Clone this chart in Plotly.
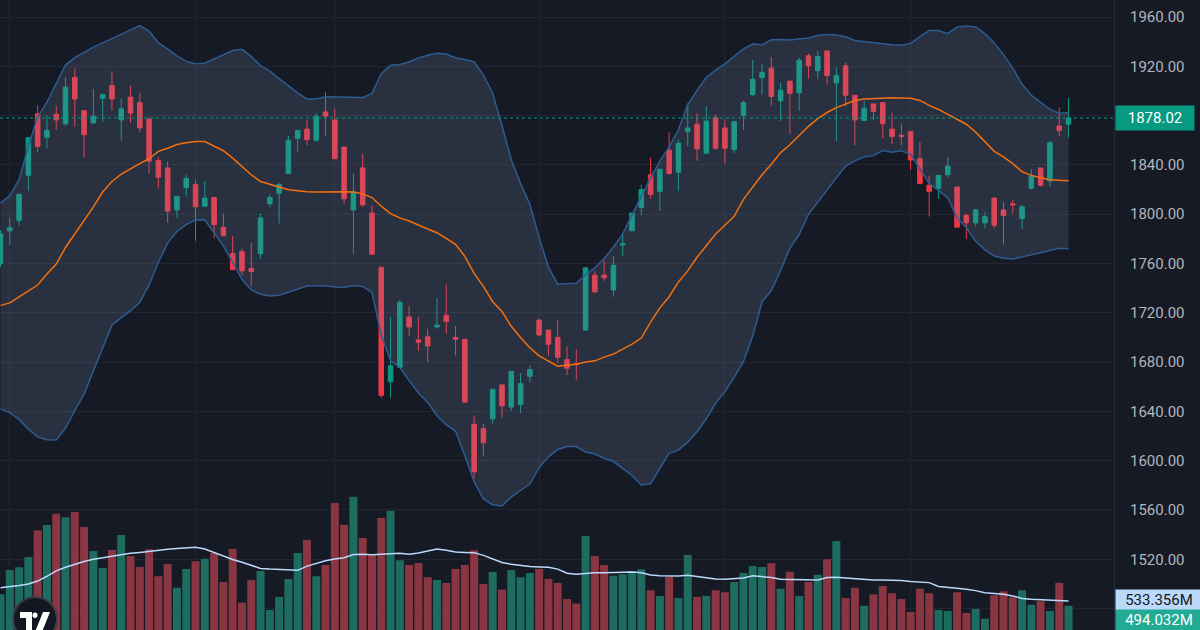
import plotly.graph_objects as go

# ---------------- data ----------------
opens = [1760, 1786.5, 1795, 1831.5, 1881.5, 1862.5, 1881, 1873.5, 1911, 1884,
         1874, 1894, 1904.5, 1876.5, 1895, 1890.5, 1877, 1843.5, 1837.5, 1803.5,
         1821.5, 1824, 1806.5, 1813.5, 1789.5, 1768, 1769.5, 1756, 1768, 1808.5,
         1817, 1833, 1861.5, 1869, 1860, 1883, 1876.5, 1854.5, 1803.5, 1837.5,
         1801, 1757, 1664, 1675.5, 1716.5, 1698, 1700.5, 1708.5, 1718, 1700,
         1698.5, 1629.5, 1626, 1634, 1661.5, 1643.5, 1645.5, 1668.5, 1714, 1706,
         1700, 1682, 1678.7, 1706, 1750.5, 1750.5, 1738.5, 1775, 1786.5, 1805.5,
         1832, 1818.5, 1852, 1834, 1867, 1873, 1849.5, 1878.5, 1870, 1852.5,
         1880, 1897, 1911, 1918.5, 1892, 1908, 1898.5, 1928.5, 1916.5, 1932.5,
         1906.5, 1920.5, 1896.5, 1876, 1889.5, 1890.5, 1869, 1864, 1867, 1845,
         1823.5, 1821, 1832, 1822, 1799, 1793, 1793, 1813, 1803.5, 1808.5,
         1796.5, 1821, 1837.5, 1827, 1871.5, 1873]

highs = [1787, 1797, 1817, 1862, 1888.5, 1880, 1888, 1911, 1918.5, 1884,
         1901.5, 1898, 1915.5, 1894, 1904.5, 1898.5, 1879, 1846, 1842.5, 1814.5,
         1832, 1827.5, 1827, 1813.5, 1800.5, 1782.5, 1772, 1777, 1800.5, 1816,
         1825.5, 1863.5, 1868, 1876.5, 1882, 1899, 1885.5, 1854.5, 1833.5, 1849,
         1807, 1757, 1716.5, 1730.5, 1725.5, 1716.5, 1707, 1732, 1743, 1709.5,
         1698.5, 1636.5, 1630, 1658, 1661.5, 1672.5, 1671, 1677, 1715, 1706,
         1714, 1692.5, 1690.3, 1756.5, 1753.5, 1762.5, 1766, 1783.5, 1801, 1824,
         1846, 1836.5, 1866.5, 1860.5, 1890, 1882, 1887.5, 1881, 1877, 1875,
         1892, 1925, 1922, 1927.5, 1907, 1908, 1927, 1930.5, 1932.5, 1932.5,
         1919, 1923, 1896.5, 1892, 1889.5, 1890.5, 1882.5, 1873.5, 1867, 1858.5,
         1831.5, 1831.5, 1846.5, 1822.5, 1800.5, 1804.5, 1801.5, 1814, 1810, 1811.5,
         1807.5, 1836.5, 1837.5, 1859.5, 1886.5, 1894.5]

lows = [1757, 1775, 1791, 1819, 1850.5, 1853.5, 1868.5, 1871.5, 1871, 1846,
        1873.5, 1875, 1884, 1859.5, 1874, 1866.5, 1833, 1821.5, 1793, 1797,
        1814.5, 1778.5, 1806, 1780.5, 1782, 1754.5, 1750.5, 1742, 1764, 1805.5,
        1792.5, 1833, 1850.5, 1856, 1859, 1863.5, 1845, 1808.5, 1767.5, 1806,
        1767.5, 1651, 1651, 1675.5, 1701.5, 1689, 1680, 1707, 1703, 1685.5,
        1647.5, 1586, 1603.5, 1630, 1635, 1640.5, 1638.5, 1663.5, 1701, 1685,
        1679.5, 1669.5, 1665.6, 1706, 1736, 1746, 1733, 1766, 1786.5, 1799,
        1812.5, 1802.5, 1832, 1819, 1855, 1843.5, 1849.5, 1852.5, 1841, 1849.5,
        1868.5, 1896, 1897, 1888, 1875.5, 1865, 1884, 1910, 1909.5, 1905,
        1859, 1887.5, 1856, 1876, 1876.5, 1861.5, 1857, 1856, 1836, 1824,
        1798, 1812.5, 1829.5, 1789.5, 1780, 1790, 1788.5, 1788.5, 1775.5, 1800.5,
        1788, 1820, 1822.5, 1822.5, 1863, 1862]

closes = [1784, 1789, 1816, 1862, 1855, 1868, 1876.5, 1903, 1893.5, 1864.5,
          1879.5, 1897, 1893.5, 1885.5, 1882, 1870, 1843, 1830, 1802.5, 1814.5,
          1829, 1806, 1813, 1791.5, 1782.5, 1755, 1754, 1753.5, 1797, 1813.5,
          1824, 1860, 1868, 1860.5, 1879.5, 1879.5, 1845, 1812.5, 1818.5, 1807.5,
          1767.5, 1653, 1677, 1728.5, 1708.5, 1696, 1693, 1710, 1713, 1698.5,
          1647.5, 1591, 1614.5, 1658, 1644.5, 1672.5, 1662.5, 1674, 1702, 1694.5,
          1684, 1675, 1678.2, 1756.5, 1737, 1748.5, 1758.5, 1776, 1801, 1820,
          1816, 1836.5, 1833, 1857.5, 1870, 1853, 1875.5, 1853.5, 1853.5, 1875,
          1890.5, 1909.5, 1915, 1895.5, 1900.5, 1898, 1925, 1920.5, 1928, 1912.5,
          1912.5, 1896.5, 1876.5, 1886, 1883.5, 1873.5, 1863, 1863, 1844, 1825,
          1818.5, 1831.5, 1839, 1789.5, 1793, 1803.5, 1798, 1791, 1799, 1807.5,
          1806, 1830.5, 1823.5, 1858, 1868, 1878.02]

bb_upper = [1809, 1815, 1828, 1855, 1879, 1891, 1906, 1921, 1927, 1931.5,
            1935.6, 1939, 1942.5, 1946.5, 1950, 1953, 1948.5, 1939, 1934, 1928.5,
            1924, 1922, 1922.5, 1926, 1929, 1932.8, 1933.8, 1928, 1920.5, 1916,
            1910, 1904, 1898.5, 1893.5, 1893.5, 1895.3, 1895, 1894.6, 1894.6, 1894.6,
            1898, 1914, 1920.8, 1921.5, 1923.5, 1926.8, 1929, 1930.5, 1930, 1927,
            1925.5, 1923.5, 1913, 1898, 1872, 1844, 1825, 1808, 1781, 1757,
            1743.4, 1743.4, 1744, 1750.5, 1756.6, 1764, 1773.4, 1784, 1799, 1815,
            1829.5, 1843, 1854.5, 1868.5, 1889, 1900.5, 1911, 1917, 1922, 1928,
            1934.2, 1938, 1937.5, 1941.5, 1941.8, 1941.3, 1942, 1943, 1945, 1945.9,
            1945.5, 1944, 1941, 1940, 1939, 1938, 1937.5, 1937, 1938.6, 1944,
            1949, 1949, 1946.5, 1951.9, 1952.8, 1952, 1946.5, 1939, 1929.5, 1918.5,
            1905.5, 1896.5, 1890.5, 1885, 1882, 1882.4]

bb_basis = [1726, 1728, 1733, 1738, 1742.5, 1751.5, 1759.5, 1773, 1784, 1794.5,
            1806, 1818, 1826.5, 1832.5, 1837, 1841, 1845, 1851, 1853.5, 1856.5,
            1858, 1859, 1858.9, 1855.5, 1851.5, 1845.5, 1839, 1832, 1826.5, 1824,
            1822, 1819.8, 1818.9, 1818.2, 1818, 1818.3, 1818.5, 1818.3, 1818, 1816.5,
            1813.5, 1806.5, 1800.5, 1797, 1794.5, 1791, 1788, 1785, 1780, 1775.5,
            1765.8, 1752, 1741.5, 1729, 1721, 1709, 1700, 1691.6, 1685, 1680.5,
            1676.6, 1677.5, 1678.3, 1680, 1681, 1684, 1686.5, 1690.5, 1694.5, 1699.5,
            1712.5, 1724, 1733, 1745, 1754, 1765, 1774.5, 1784, 1791, 1798.3,
            1812, 1822, 1832, 1840.5, 1850, 1856.3, 1863.5, 1871.3, 1877.5, 1882.5,
            1886.5, 1889.5, 1892.3, 1893.5, 1894, 1894.3, 1894.4, 1894.3, 1894, 1892.3,
            1888.3, 1885, 1880.9, 1877, 1873, 1866.6, 1858.5, 1851, 1846.5, 1841,
            1834.5, 1831.5, 1829.5, 1828, 1827.5, 1827.2]

bb_lower = [1642, 1639, 1633.5, 1625.5, 1619.3, 1617, 1616.7, 1626.5, 1640.5, 1654,
            1673, 1691.6, 1710, 1716, 1721.5, 1728.5, 1742.5, 1761, 1776.5, 1786,
            1791.5, 1795.4, 1795.2, 1785.2, 1774, 1761, 1747, 1738.5, 1735, 1733.7,
            1734.3, 1736.7, 1739, 1741.7, 1741.9, 1741.9, 1741, 1740.7, 1741.9, 1741.3,
            1736.5, 1702, 1681, 1675.7, 1665, 1655, 1647.3, 1636.5, 1629, 1624,
            1604, 1583, 1569, 1564.2, 1563.3, 1570.5, 1575.8, 1581, 1594.3, 1603.1,
            1609.1, 1611.5, 1611.5, 1607, 1605.4, 1602, 1599.3, 1593.5, 1588, 1580.3,
            1581.3, 1593.7, 1606, 1608.5, 1615, 1623.5, 1634, 1646.6, 1656, 1667.5,
            1680.5, 1701, 1729, 1738, 1754.3, 1772.5, 1783.5, 1799.9, 1809.3, 1819.5,
            1829.6, 1839, 1843.3, 1846.5, 1847.5, 1851.7, 1850.2, 1851.5, 1848.5, 1837,
            1825, 1819.3, 1813.3, 1797, 1789, 1778, 1771, 1766, 1764.3, 1763.6,
            1765, 1767, 1768.7, 1770.8, 1772.3, 1772]

volumes_m = [589, 793, 815, 901, 1125, 1169, 1264, 1234, 1278, 1153,
             952, 809, 960, 1086, 910, 818, 966, 740, 843, 644,
             801, 865, 887, 935, 692, 968, 519, 709, 784, 458,
             567, 717, 935, 1044, 740, 834, 1353, 1172, 1406, 1060,
             918, 1228, 1289, 874, 834, 851, 731, 709, 684, 801,
             834, 957, 675, 776, 628, 793, 731, 768, 801, 717,
             684, 550, 511, 1077, 910, 834, 745, 757, 784, 798,
             623, 575, 737, 558, 918, 567, 575, 623, 606, 692,
             768, 826, 818, 849, 636, 778, 575, 692, 753, 882,
             1035, 558, 644, 494, 589, 659, 598, 550, 441, 636,
             598, 458, 449, 606, 433, 466, 385, 581, 614, 564,
             623, 502, 531, 449, 684, 494.032]

volume_ma_m = [644, 650, 662, 675, 700, 740, 785, 815, 842, 864,
               883, 896, 906, 918, 932, 940, 950, 960, 967, 973,
               978, 982, 968, 940, 906, 880, 858, 830, 806, 800,
               797, 795, 790, 825, 850, 870, 884, 896, 922, 925,
               921, 925, 930, 932, 925, 935, 952, 968, 958, 943,
               940, 938, 915, 885, 855, 840, 828, 822, 818, 815,
               800, 765, 758, 765, 769, 770, 772, 775, 776, 770,
               750, 745, 743, 743, 748, 737, 727, 718, 716, 720,
               725, 745, 740, 729, 715, 712, 709, 709, 709, 730,
               732, 726, 720, 709, 709, 709, 709, 705, 697, 690,
               687, 655, 650, 640, 631, 620, 602, 595, 589, 575,
               555, 548, 544, 540, 537, 533.356]

month_start_bars = [1, 21, 36, 58, 78, 98]
price_ticks = [1480, 1520, 1560, 1600, 1640, 1680, 1720, 1760, 1800, 1840, 1880, 1920, 1960]
hidden_tick_labels = [1480, 1880]
last_price = 1878.02
last_volume_m = 494.032
last_volume_ma_m = 533.356

# ---------------- styling / layout constants ----------------
W, H = 1200, 630
R_MARGIN = 86
PLOT_W = W - R_MARGIN
BG = "#161A25"
GRID = "#222632"
UP = "#089981"
DOWN = "#F23645"
VOL_UP = "#1E6B5F"
VOL_DOWN = "#8A3542"
BAND_LINE = "#2D5C92"
BAND_FILL = "rgba(120,140,170,0.20)"
BASIS = "#F4700F"
VOL_MA = "#BBD9FB"
TEXT = "#B2B5BE"
FONT = "Roboto"

n = len(closes)
x = list(range(n))
vol_colors = [VOL_UP if c >= o else VOL_DOWN for o, c in zip(opens, closes)]

fig = go.Figure()

# Bollinger band
fig.add_trace(go.Scatter(x=x, y=bb_lower, mode="lines",
                         line=dict(color=BAND_LINE, width=1.5), hoverinfo="skip"))
fig.add_trace(go.Scatter(x=x, y=bb_upper, mode="lines", fill="tonexty",
                         fillcolor=BAND_FILL,
                         line=dict(color=BAND_LINE, width=1.5), hoverinfo="skip"))
fig.add_trace(go.Scatter(x=x, y=bb_basis, mode="lines",
                         line=dict(color=BASIS, width=1.5), hoverinfo="skip"))

# Volume
fig.add_trace(go.Bar(x=x, y=volumes_m, marker=dict(color=vol_colors, line=dict(width=0)),
                     width=0.86, yaxis="y2", hoverinfo="skip"))
fig.add_trace(go.Scatter(x=x, y=volume_ma_m, mode="lines", yaxis="y2",
                         line=dict(color=VOL_MA, width=1.5), hoverinfo="skip"))

# Candles
fig.add_trace(go.Candlestick(
    x=x, open=opens, high=highs, low=lows, close=closes,
    increasing=dict(line=dict(color=UP, width=1), fillcolor=UP),
    decreasing=dict(line=dict(color=DOWN, width=1), fillcolor=DOWN),
    whiskerwidth=0, hoverinfo="skip"))

# axis ranges derived from pixel calibration of the reference
bar_px = 9.287
first_bar_px = 0.5
x_range = [-first_bar_px / bar_px, (PLOT_W - first_bar_px) / bar_px]

tick_text = ["" if v in hidden_tick_labels else f"{v:.2f}" for v in price_ticks]


def px_to_paper(px, py):
    return px / PLOT_W, 1 - py / H


def path_from_px(points):
    pts = [px_to_paper(a, b) for a, b in points]
    return "M " + " L ".join(f"{a:.5f},{b:.5f}" for a, b in pts) + " Z"


shapes = [
    dict(type="line", xref="paper", x0=0, x1=1, yref="y", y0=last_price, y1=last_price,
         line=dict(color=UP, width=1, dash="dot"), layer="above"),
]
# TradingView-style logo badge (bottom-left)
cx0, cy0 = px_to_paper(13, 597)
cx1, cy1 = px_to_paper(57, 641)
shapes.append(dict(type="circle", xref="paper", yref="paper", x0=cx0, y0=cy1, x1=cx1, y1=cy0,
                   fillcolor="#131722", line=dict(color="#3A3E4A", width=2), layer="above"))
shapes.append(dict(type="path", xref="paper", yref="paper",
                   path=path_from_px([(20, 612), (32, 612), (32, 630), (26, 630), (26, 618), (20, 618)]),
                   fillcolor="white", line=dict(width=0), layer="above"))
dx0, dy0 = px_to_paper(32.5, 612.5)
dx1, dy1 = px_to_paper(37.5, 618.0)
shapes.append(dict(type="circle", xref="paper", yref="paper", x0=dx0, y0=dy1, x1=dx1, y1=dy0,
                   fillcolor="white", line=dict(width=0), layer="above"))
shapes.append(dict(type="path", xref="paper", yref="paper",
                   path=path_from_px([(43, 612), (50, 612), (42, 632), (35, 632)]),
                   fillcolor="white", line=dict(width=0), layer="above"))

annotations = [
    dict(xref="paper", x=1, xanchor="left", xshift=1, yref="y", y=last_price, yanchor="middle",
         text=f"{last_price:.2f}", showarrow=False, bgcolor=UP, width=78, height=24,
         borderpad=0, align="center", font=dict(family=FONT, size=15, color="white")),
    dict(xref="paper", x=1, xanchor="left", xshift=1, yref="y2", y=last_volume_ma_m, yanchor="middle",
         yshift=1, text=f"{last_volume_ma_m:.3f}M", showarrow=False, bgcolor=VOL_MA, width=86, height=20,
         borderpad=0, align="center", font=dict(family=FONT, size=15, color="#131722")),
    dict(xref="paper", x=1, xanchor="left", xshift=1, yref="y2", y=last_volume_m, yanchor="middle",
         yshift=-14, text=f"{last_volume_m:.3f}M", showarrow=False, bgcolor="#22AB94", width=86, height=20,
         borderpad=0, align="center", font=dict(family=FONT, size=15, color="white")),
]

fig.update_layout(
    width=W, height=H, autosize=False,
    margin=dict(l=0, r=R_MARGIN, t=0, b=0, pad=0),
    paper_bgcolor=BG, plot_bgcolor=BG,
    showlegend=False, hovermode=False,
    xaxis=dict(range=x_range, tickvals=month_start_bars, showticklabels=False,
               showgrid=True, gridcolor=GRID, gridwidth=1, zeroline=False,
               showline=False, ticks="", rangeslider=dict(visible=False), fixedrange=True),
    yaxis=dict(side="right", range=[1462.6, 1973.8], tickvals=price_ticks, ticktext=tick_text,
               showgrid=True, gridcolor=GRID, gridwidth=1, zeroline=False,
               showline=True, linecolor="#2A2E39", linewidth=1, ticks="",
               ticklabelstandoff=12,
               tickfont=dict(family=FONT, size=15, color=TEXT), fixedrange=True),
    yaxis2=dict(overlaying="y", range=[290.4, 5563.5], visible=False, fixedrange=True),
    shapes=shapes,
    annotations=annotations,
    bargap=0.1,
)

fig.write_html("out.html")
